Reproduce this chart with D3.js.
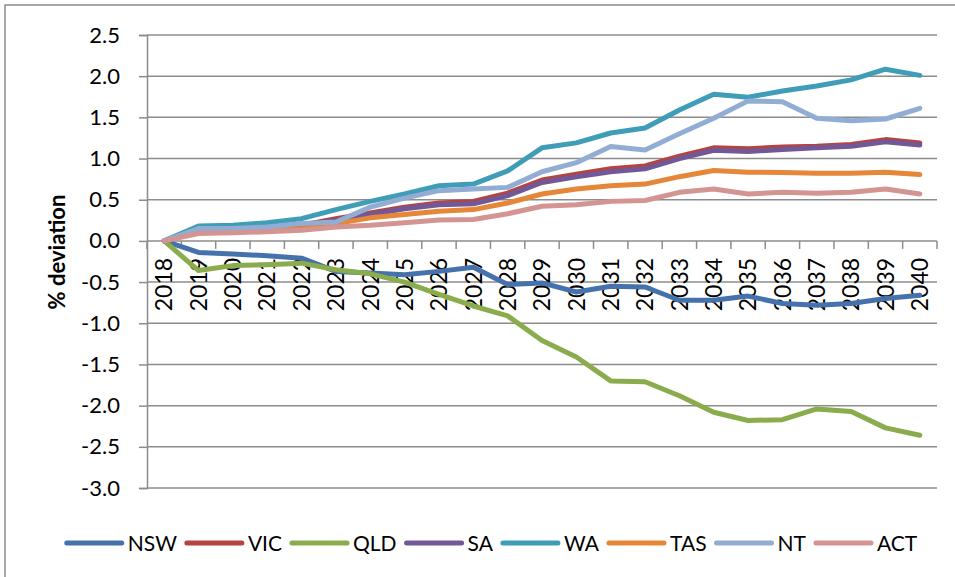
<!DOCTYPE html>
<html>
<head>
<meta charset="utf-8">
<script src="https://cdn.jsdelivr.net/npm/d3@7"></script>
<style>
  body { margin: 0; background: #ffffff; }
  svg { display: block; font-family: Lato, "Open Sans", sans-serif; }
</style>
</head>
<body>
<div id="chart"></div>
<script>
// categories and series
let years = ["2018", "2019", "2020", "2021", "2022", "2023", "2024", "2025", "2026", "2027", "2028",
  "2029", "2030", "2031", "2032", "2033", "2034", "2035", "2036", "2037", "2038", "2039", "2040"];

let nsw = [0, -0.14, -0.16, -0.18, -0.21, -0.37, -0.39, -0.41, -0.37, -0.32, -0.53, -0.51,
  -0.62, -0.55, -0.56, -0.72, -0.72, -0.67, -0.76, -0.78, -0.76, -0.70, -0.66];
let vic = [0, 0.13, 0.13, 0.15, 0.19, 0.27, 0.34, 0.41, 0.46, 0.48, 0.58, 0.74,
  0.81, 0.875, 0.91, 1.03, 1.13, 1.12, 1.14, 1.15, 1.17, 1.23, 1.19];
let qld = [0, -0.36, -0.30, -0.29, -0.27, -0.35, -0.40, -0.50, -0.65, -0.79, -0.91, -1.21,
  -1.41, -1.70, -1.71, -1.88, -2.08, -2.18, -2.17, -2.04, -2.07, -2.27, -2.36];
let sa = [0, 0.12, 0.12, 0.14, 0.18, 0.25, 0.32, 0.39, 0.44, 0.45, 0.55, 0.71,
  0.78, 0.84, 0.875, 1.00, 1.10, 1.085, 1.11, 1.13, 1.15, 1.205, 1.165];
let wa = [0, 0.18, 0.19, 0.22, 0.27, 0.38, 0.48, 0.57, 0.67, 0.69, 0.85, 1.13,
  1.19, 1.31, 1.37, 1.59, 1.78, 1.745, 1.82, 1.88, 1.955, 2.085, 2.01];
let tas = [0, 0.11, 0.11, 0.12, 0.15, 0.21, 0.28, 0.32, 0.36, 0.38, 0.46, 0.57,
  0.63, 0.67, 0.69, 0.78, 0.855, 0.835, 0.83, 0.82, 0.82, 0.835, 0.805];
let nt = [0, 0.15, 0.15, 0.17, 0.21, 0.23, 0.41, 0.52, 0.61, 0.63, 0.65, 0.84,
  0.95, 1.145, 1.105, 1.30, 1.49, 1.70, 1.69, 1.49, 1.46, 1.48, 1.61];
let act = [0, 0.09, 0.10, 0.11, 0.13, 0.17, 0.19, 0.22, 0.255, 0.26, 0.33, 0.42,
  0.44, 0.48, 0.49, 0.59, 0.63, 0.57, 0.59, 0.58, 0.59, 0.63, 0.57];

let seriesNames = ["NSW", "VIC", "QLD", "SA", "WA", "TAS", "NT", "ACT"];
let seriesValues = [nsw, vic, qld, sa, wa, tas, nt, act];
let seriesColors = ["#4572ad", "#b6433f", "#8bac4c", "#725896", "#3f9db8", "#e58638", "#92add3", "#d49492"];

let yTicks = [-3.0, -2.5, -2.0, -1.5, -1.0, -0.5, 0.0, 0.5, 1.0, 1.5, 2.0, 2.5];

// page size and plot box
let fullWidth = 955;
let fullHeight = 577;
let plot = { left: 147, right: 937, top: 35, bottom: 488 };
let gridColor = "#8c8c8c";

let svg = d3.select("#chart")
  .append("svg")
  .attr("width", fullWidth)
  .attr("height", fullHeight);

// outer chart border (only top and left show in the crop)
svg.append("rect")
  .attr("x", 5)
  .attr("y", 5)
  .attr("width", fullWidth + 20)
  .attr("height", fullHeight + 20)
  .attr("fill", "none")
  .attr("stroke", gridColor)
  .attr("stroke-width", 1.5);

let xScale = d3.scaleBand()
  .domain(years)
  .range([plot.left, plot.right]);

let yScale = d3.scaleLinear()
  .domain([-3, 2.5])
  .range([plot.bottom, plot.top]);

// horizontal gridlines
svg.append("g")
  .selectAll("line")
  .data(yTicks)
  .enter()
  .append("line")
  .attr("x1", plot.left)
  .attr("x2", plot.right)
  .attr("y1", function(d) { return yScale(d); })
  .attr("y2", function(d) { return yScale(d); })
  .attr("stroke", gridColor)
  .attr("stroke-width", 1.5);

// y axis
let yAxis = svg.append("g")
  .attr("transform", "translate(" + plot.left + ",0)")
  .call(d3.axisLeft(yScale)
    .tickValues(yTicks)
    .tickSize(8)
    .tickPadding(19)
    .tickFormat(function(d) { return d.toFixed(1); }));

yAxis.select(".domain").attr("stroke", gridColor).attr("stroke-width", 1.5);
yAxis.selectAll(".tick line").attr("stroke", gridColor).attr("stroke-width", 1.5);
yAxis.selectAll(".tick text")
  .attr("fill", "#000")
  .style("font-family", "Lato, sans-serif")
  .style("font-size", "22px");

// x axis along the zero line, ticks between categories
let zeroY = yScale(0);
let tickPositions = years.map(function(d) { return xScale(d); }).concat([plot.right]);

svg.append("g")
  .selectAll("line")
  .data(tickPositions)
  .enter()
  .append("line")
  .attr("x1", function(d) { return d; })
  .attr("x2", function(d) { return d; })
  .attr("y1", zeroY)
  .attr("y2", zeroY + 8)
  .attr("stroke", gridColor)
  .attr("stroke-width", 1.5);

// rotated year labels
svg.append("g")
  .selectAll("text")
  .data(years)
  .enter()
  .append("text")
  .attr("transform", function(d) {
    return "translate(" + (xScale(d) + xScale.bandwidth() / 2) + "," + (zeroY + 17) + ") rotate(-90)";
  })
  .attr("dy", "0.36em")
  .attr("text-anchor", "end")
  .style("font-size", "23px")
  .text(function(d) { return d; });

// y axis title
svg.append("text")
  .attr("transform", "translate(57,252) rotate(-90)")
  .attr("dy", "0.36em")
  .attr("text-anchor", "middle")
  .style("font-size", "22px")
  .style("font-weight", "bold")
  .text("% deviation");

// series lines
let line = d3.line()
  .x(function(d, i) { return xScale(years[i]) + xScale.bandwidth() / 2; })
  .y(function(d) { return yScale(d); });

svg.append("g")
  .selectAll("path")
  .data(seriesValues)
  .enter()
  .append("path")
  .attr("d", function(d) { return line(d); })
  .attr("fill", "none")
  .attr("stroke", function(d, i) { return seriesColors[i]; })
  .attr("stroke-width", 5)
  .attr("stroke-linejoin", "round")
  .attr("stroke-linecap", "round");

// legend along the bottom, centred
let legendY = 543;
let legend = svg.append("g");

let items = legend.selectAll("g")
  .data(seriesNames)
  .enter()
  .append("g");

items.append("line")
  .attr("x1", 0)
  .attr("x2", 55)
  .attr("y1", legendY)
  .attr("y2", legendY)
  .attr("stroke", function(d, i) { return seriesColors[i]; })
  .attr("stroke-width", 5)
  .attr("stroke-linecap", "round");

items.append("text")
  .attr("x", 61)
  .attr("y", legendY)
  .attr("dy", "0.36em")
  .style("font-size", "21px")
  .text(function(d) { return d; });

let widths = [];
items.each(function() {
  widths.push(61 + d3.select(this).select("text").node().getComputedTextLength());
});
let totalWidth = d3.sum(widths) + 10 * (widths.length - 1);
let startX = 492 - totalWidth / 2;

items.attr("transform", function(d, i) {
  let offset = startX + d3.sum(widths.slice(0, i)) + 10 * i;
  return "translate(" + offset + ",0)";
});
</script>
</body>
</html>
